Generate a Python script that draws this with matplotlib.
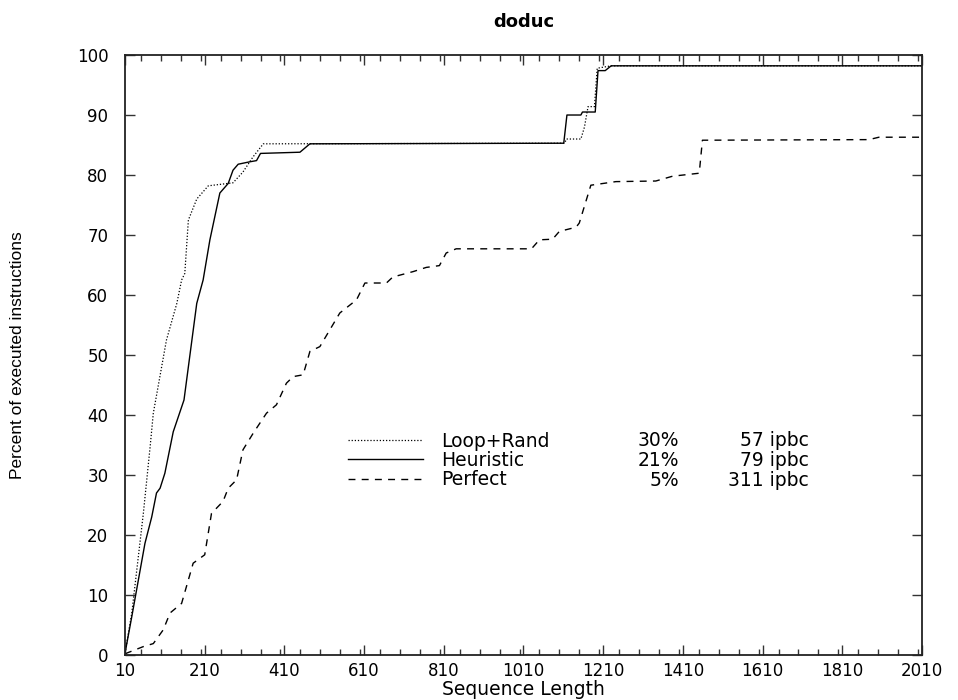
import matplotlib
matplotlib.use('Agg')
import matplotlib.pyplot as plt
from matplotlib.ticker import MultipleLocator, FixedLocator

# curves
loop_x = [10, 27, 56, 73, 81, 114, 140, 152, 160, 169, 190, 219, 281, 306, 331, 357,
          1113, 1118, 1154, 1163, 1172, 1188, 1195, 1230, 2010]
loop_y = [0.3, 7, 23.6, 34.7, 40.3, 52.5, 58.6, 62.5, 63.6, 72.5, 76, 78.2, 78.7, 80.5, 83, 85.2,
          85.3, 86, 86, 88, 91.4, 91.4, 97.8, 98.2, 98.2]

heur_x = [10, 27, 60, 77, 89, 98, 110, 131, 158, 190, 206, 223, 248, 269, 281, 294, 323, 340,
          350, 449, 474, 1111, 1119, 1154, 1158, 1190, 1197, 1215, 1230, 2010]
heur_y = [0.3, 6.4, 18.6, 23, 27, 27.8, 30.3, 37.2, 42.5, 58.6, 62.5, 69.2, 77, 78.6, 80.8, 81.8, 82.2, 82.4,
          83.6, 83.8, 85.2, 85.3, 90, 90, 90.5, 90.5, 97.4, 97.4, 98.2, 98.2]

perf_x = [10, 56, 81, 106, 123, 152, 181, 210, 227, 256, 269, 290, 306, 332, 365, 390, 415, 432,
          457, 474, 499, 524, 549, 591, 612, 666, 682, 733, 766, 799, 816, 841, 1030, 1050, 1083,
          1100, 1142, 1150, 1179, 1242, 1342, 1384, 1451, 1459, 1877, 1902, 2010]
perf_y = [0.2, 1.4, 1.9, 4.2, 7, 8.6, 15.3, 16.7, 23.6, 25.6, 27.8, 29.2, 34.2, 37, 40.3, 41.7, 45.3, 46.4,
          46.7, 50.6, 51.4, 54.2, 57, 59.2, 62, 62, 63, 63.9, 64.6, 64.9, 67, 67.7, 67.7, 69.2, 69.3,
          70.6, 71.3, 72, 78.3, 78.9, 79, 79.8, 80.3, 85.8, 85.9, 86.3, 86.3]

names = ['Loop+Rand', 'Heuristic', 'Perfect']
pcts = ['30%', '21%', '5%']
ipbc = ['57 ipbc', '79 ipbc', '311 ipbc']

x_ticks = list(range(10, 2011, 200))
y_ticks = list(range(0, 101, 10))

plt.rcParams['font.family'] = ['DejaVu Sans']

fig = plt.figure(figsize=(9.58, 7.0), dpi=100)
ax = fig.add_axes([0.1305, 0.0643, 0.8319, 0.8571])

l1, = ax.plot(loop_x, loop_y, color='black', lw=0.9, linestyle=(0, (1, 1.5)))
l2, = ax.plot(heur_x, heur_y, color='black', lw=1.0, linestyle='-')
l3, = ax.plot(perf_x, perf_y, color='black', lw=1.0, linestyle=(0, (5, 4.5)))

ax.set_xlim(10, 2010)
ax.set_ylim(0, 100)
ax.xaxis.set_major_locator(FixedLocator(x_ticks))
ax.xaxis.set_minor_locator(MultipleLocator(50))
ax.yaxis.set_major_locator(FixedLocator(y_ticks))
ax.tick_params(which='both', direction='in', top=True, right=True, width=1, color='#333333')
ax.tick_params(which='major', length=7, labelsize=12)
ax.tick_params(which='minor', length=4)
ax.tick_params(axis='x', which='major', pad=5)
ax.tick_params(axis='y', which='major', pad=12)
for s in ax.spines.values():
    s.set_linewidth(1.3)
    s.set_color('#222222')

ax.set_title('doduc', fontsize=13, fontweight='bold', pad=20)
ax.set_xlabel('Sequence Length', fontsize=13.5, labelpad=0)
ax.set_ylabel('Percent of executed instructions', fontsize=12.5,
              family=['Liberation Sans', 'DejaVu Sans'], labelpad=37)

leg = ax.legend([l1, l2, l3], names, loc='upper left', bbox_to_anchor=(0.27, 0.385),
                frameon=False, fontsize=13.5, handlelength=4.0, handletextpad=1.0,
                labelspacing=0.02, borderaxespad=0)

# extra legend columns
row_y = [0.358, 0.3247, 0.2913]
for i in range(3):
    ax.text(0.695, row_y[i], pcts[i], transform=ax.transAxes, ha='right', va='center', fontsize=13.5)
    ax.text(0.858, row_y[i], ipbc[i], transform=ax.transAxes, ha='right', va='center', fontsize=13.5)

fig.savefig('out.png', dpi=100)
